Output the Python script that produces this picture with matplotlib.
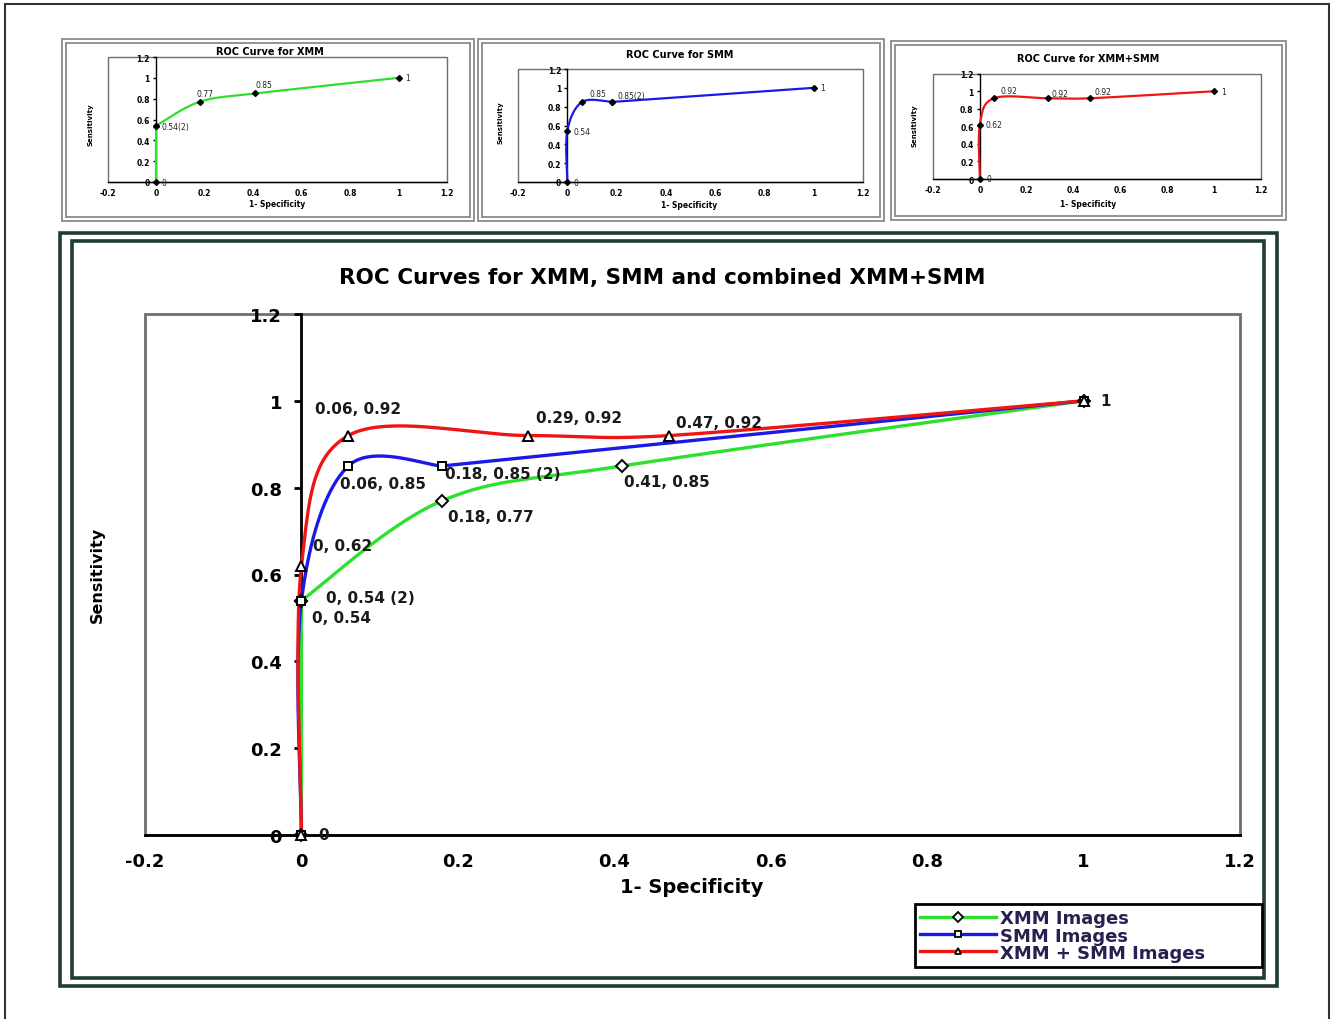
import numpy as np
import matplotlib
matplotlib.use("Agg")
import matplotlib.pyplot as plt
from matplotlib.patches import Rectangle
from matplotlib.lines import Line2D

# =========================
# DATA
# =========================
xmm_fpr = [0, 0, 0, 0.18, 0.41, 1]
xmm_tpr = [0, 0.54, 0.54, 0.77, 0.85, 1]

smm_fpr = [0, 0, 0.06, 0.18, 0.18, 1]
smm_tpr = [0, 0.54, 0.85, 0.85, 0.85, 1]

comb_fpr = [0, 0, 0.06, 0.29, 0.47, 1]
comb_tpr = [0, 0.62, 0.92, 0.92, 0.92, 1]

x_ticks = [-0.2, 0, 0.2, 0.4, 0.6, 0.8, 1, 1.2]
y_ticks = [0, 0.2, 0.4, 0.6, 0.8, 1, 1.2]

series_names = ["XMM Images", "SMM Images", "XMM + SMM Images"]

# data labels, keyed by point index
xmm_small_labels = {0: "0", 1: "0.54(2)", 3: "0.77", 4: "0.85", 5: "1"}
smm_small_labels = {0: "0", 1: "0.54", 2: "0.85", 3: "0.85(2)", 5: "1"}
comb_small_labels = {0: "0", 1: "0.62", 2: "0.92", 3: "0.92", 4: "0.92", 5: "1"}

xmm_main_labels = {0: "0", 1: "0, 0.54 (2)", 3: "0.18, 0.77", 4: "0.41, 0.85", 5: "1"}
smm_main_labels = {1: "0, 0.54", 2: "0.06, 0.85", 3: "0.18, 0.85 (2)"}
comb_main_labels = {1: "0, 0.62", 2: "0.06, 0.92", 3: "0.29, 0.92", 4: "0.47, 0.92"}

GREEN, BLUE, RED = "#2ee02e", "#1a1ae6", "#ee1515"
FRAME = "#1f3b35"
plt.rcParams["axes.unicode_minus"] = False
plt.rcParams["font.family"] = ["DejaVu Sans"]

W, H = 1332, 1020
fig = plt.figure(figsize=(W / 100, H / 100), dpi=100)


def fx(px):
    return px / W


def fy(py):
    return 1 - py / H


def axes_px(x0, x1, ytop, ybot):
    return fig.add_axes([fx(x0), fy(ybot), (x1 - x0) / W, (ybot - ytop) / H])


def frame_px(x0, y0, x1, y1, color, lw):
    fig.add_artist(Rectangle((fx(x0), fy(y1)), (x1 - x0) / W, (y1 - y0) / H,
                             transform=fig.transFigure, fill=False,
                             ec=color, lw=lw))


def smooth(ax, xs, ys, n=40):
    # excel-like smoothed line: bezier with capped catmull-rom handles,
    # repeated points kept for the tangents, zero length pieces skipped
    p = ax.transData.transform(np.column_stack([xs, ys]))
    out = [p[0]]
    for i in range(len(p) - 1):
        p0 = p[i - 1] if i > 0 else p[i]
        p1, p2 = p[i], p[i + 1]
        p3 = p[i + 2] if i + 2 < len(p) else p[i + 1]
        d12 = np.hypot(*(p2 - p1))
        if d12 < 1e-6:
            continue

        def handle(t):
            L = np.hypot(*t)
            if L == 0:
                return 0 * t
            return t * min(1 / 6, 0.5 * d12 / L)

        c1 = p1 + handle(p2 - p0)
        c2 = p2 - handle(p3 - p1)
        t = np.linspace(0, 1, n)[1:, None]
        seg = (1 - t) ** 3 * p1 + 3 * (1 - t) ** 2 * t * c1 + 3 * (1 - t) * t ** 2 * c2 + t ** 3 * p2
        out.extend(seg)
    out = np.array(out)
    return ax.transData.inverted().transform(out).T


def style_axes(ax, tick_fs, tick_len, ypad, xpad, frame_lw, axis_lw):
    ax.set_xlim(-0.2, 1.2)
    ax.set_ylim(0, 1.2)
    ax.set_facecolor("white")
    ax.spines["top"].set_visible(False)
    ax.spines["right"].set_visible(False)
    ax.spines["left"].set_position(("data", 0))
    ax.spines["left"].set_linewidth(axis_lw)
    ax.spines["bottom"].set_linewidth(axis_lw)
    ax.add_patch(Rectangle((0, 0), 1, 1, transform=ax.transAxes, fill=False,
                           ec="#6e6e6e", lw=frame_lw, zorder=0.5, clip_on=False))
    ax.set_xticks(x_ticks)
    ax.set_xticklabels([f"{t:g}" for t in x_ticks])
    ax.set_yticks(y_ticks)
    ax.set_yticklabels([f"{t:g}" for t in y_ticks])
    ax.tick_params(axis="y", direction="out", length=tick_len, width=axis_lw,
                   pad=ypad, labelsize=tick_fs)
    ax.tick_params(axis="x", length=0, pad=xpad, labelsize=tick_fs)
    for lab in ax.get_xticklabels() + ax.get_yticklabels():
        lab.set_fontweight("bold")


# =========================
# PAGE FRAMES
# =========================
frame_px(5, 5, 1329, 1030, "#333333", 1.5)
for (x0, y0, x1, y1) in [(62, 40, 474, 222), (478, 40, 884, 222), (891, 42, 1286, 221)]:
    frame_px(x0, y0, x1, y1, "#8a8a8a", 1.3)
    frame_px(x0 + 4, y0 + 4, x1 - 4, y1 - 4, "#8a8a8a", 1.3)
frame_px(60, 234, 1277, 987, FRAME, 2.6)
frame_px(72, 242, 1264, 979, FRAME, 2.6)

# =========================
# SMALL CHARTS
# =========================
small = [
    ((107.5, 447, 58, 183), xmm_fpr, xmm_tpr, GREEN, xmm_small_labels,
     {0: (6, 0), 1: (5, -1), 3: (-3, 8), 4: (0, 9), 5: (7, 0)},
     "ROC Curve for XMM", (270, 52), (277, 205), (90, 125)),
    ((518, 863, 70, 183), smm_fpr, smm_tpr, BLUE, smm_small_labels,
     {0: (6, 0), 1: (6, 0), 2: (7, 8), 3: (6, 6), 5: (6, 0)},
     "ROC Curve for SMM", (680, 55), (689, 206), (501, 123)),
    ((933, 1261, 74.7, 180), comb_fpr, comb_tpr, RED, comb_small_labels,
     {0: (7, 0), 1: (6, 0), 2: (7, 8), 3: (4, 5), 4: (5, 7), 5: (7, 0)},
     "ROC Curve for XMM+SMM", (1088, 59), (1088, 205), (915, 126)),
]

for box, fpr, tpr, col, labels, offs, title, tpos, xpos, ypos in small:
    ax = axes_px(*box)
    style_axes(ax, 5.5, 2.5, 2, 4, 1.0, 1.0)
    sx, sy = smooth(ax, fpr, tpr)
    ax.plot(sx, sy, color=col, lw=1.6, zorder=3, clip_on=False)
    ax.plot(fpr, tpr, ls="none", marker="D", ms=3, color="black", zorder=4, clip_on=False)
    for i, txt in labels.items():
        ax.annotate(txt, (fpr[i], tpr[i]), xytext=offs[i], textcoords="offset pixels",
                    ha="left", va="center", fontsize=5.5, color="#222222")
    fig.text(fx(tpos[0]), fy(tpos[1]), title, ha="center", va="center",
             fontsize=7, fontweight="bold")
    fig.text(fx(xpos[0]), fy(xpos[1]), "1- Specificity", ha="center", va="center",
             fontsize=5.5, fontweight="bold")
    fig.text(fx(ypos[0]), fy(ypos[1]), "Sensitivity", ha="center", va="center",
             fontsize=5, fontweight="bold", rotation=90)

# =========================
# MAIN CHART
# =========================
ax = axes_px(145, 1240, 315, 836)
style_axes(ax, 13, 5, 9, 12, 2.0, 2.0)

main = [
    (xmm_fpr, xmm_tpr, GREEN, "D", 6, xmm_main_labels,
     {0: (17, 0), 1: (25, 3), 3: (6, -16), 4: (2, -16), 5: (17, 0)}),
    (smm_fpr, smm_tpr, BLUE, "s", 6, smm_main_labels,
     {1: (11, -17), 2: (-8, -18), 3: (3, -8)}),
    (comb_fpr, comb_tpr, RED, "^", 7, comb_main_labels,
     {1: (12, 20), 2: (-33, 27), 3: (8, 18), 4: (7, 13)}),
]

handles = []
for fpr, tpr, col, mk, ms, labels, offs in main:
    sx, sy = smooth(ax, fpr, tpr)
    ax.plot(sx, sy, color=col, lw=2.4, zorder=3, clip_on=False)
    ax.plot(fpr, tpr, ls="none", marker=mk, ms=ms, mfc="white", mec="black",
            mew=1.4, zorder=4, clip_on=False)
    for i, txt in labels.items():
        ax.annotate(txt, (fpr[i], tpr[i]), xytext=offs[i], textcoords="offset pixels",
                    ha="left", va="center", fontsize=11, fontweight="bold", color="#1a1a1a")
    handles.append(Line2D([], [], color=col, lw=2.4, marker=mk, ms=5, mfc="white",
                          mec="black", mew=1.3))

fig.text(fx(662), fy(278), "ROC Curves for XMM, SMM and combined XMM+SMM",
         ha="center", va="center", fontsize=15.5, fontweight="bold")
fig.text(fx(692), fy(888), "1- Specificity", ha="center", va="center",
         fontsize=14, fontweight="bold")
fig.text(fx(97), fy(575), "Sensitivity", ha="center", va="center",
         fontsize=11.5, fontweight="bold", rotation=90)

leg = fig.legend(handles, series_names, loc="upper left",
                 bbox_to_anchor=(fx(915), fy(966), 347 / W, 61 / H), mode="expand",
                 borderaxespad=0, borderpad=0.3, labelspacing=-0.05,
                 handlelength=4.2, handletextpad=0.2, fancybox=False,
                 framealpha=1, edgecolor="black", prop={"size": 13, "weight": "bold"})
leg.get_frame().set_linewidth(2)
for t in leg.get_texts():
    t.set_color("#2a2050")

fig.savefig("out.png", dpi=100, facecolor="white")
